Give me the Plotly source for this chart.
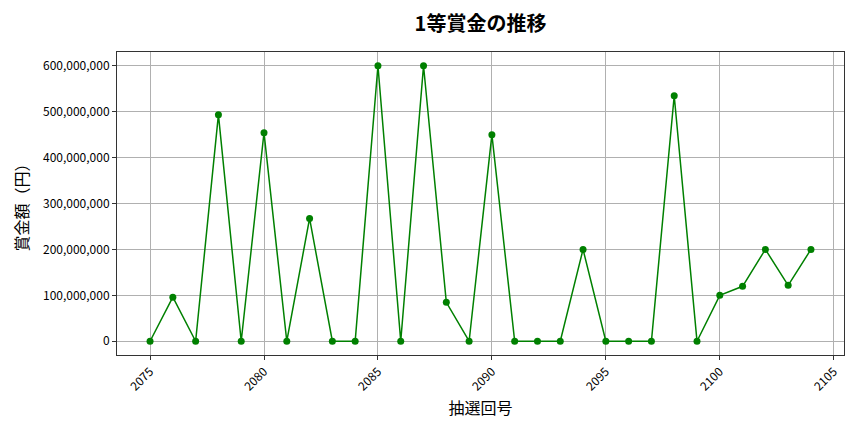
import plotly.graph_objects as go

draws = list(range(2075, 2105))
prizes = [0, 96000000, 0, 493500000, 0, 454300000, 0, 267400000, 0, 0,
          600000000, 0, 600000000, 84800000, 0, 450000000, 0, 0, 0, 200000000,
          0, 0, 0, 534800000, 0, 100000000, 119600000, 200000000, 121700000, 200000000]

title_text = "1等賞金の推移"
x_title = "抽選回号"
y_title = "賞金額（円）"
font_family = "Noto Sans CJK JP"

fig = go.Figure()
fig.add_trace(go.Scatter(
    x=draws, y=prizes, mode="lines+markers",
    line=dict(color="#008000", width=1.5),
    marker=dict(color="#008000", size=7),
    showlegend=False,
))

axis_common = dict(
    showline=True, linecolor="#333333", linewidth=1, mirror=True,
    ticks="outside", ticklen=4, tickcolor="#333333",
    showgrid=True, gridcolor="#b0b0b0", gridwidth=1,
    zeroline=False, automargin=False,
    tickfont=dict(family=font_family, size=12, color="#000000"),
)

fig.update_layout(
    width=864, height=432,
    paper_bgcolor="white", plot_bgcolor="white",
    margin=dict(l=109, r=28, t=44, b=85),
    font=dict(family=font_family, color="#000000"),
    title=dict(text=title_text, xref="paper", x=0.5, xanchor="center",
               yref="container", y=0.963, yanchor="middle",
               font=dict(family=font_family, size=20, color="#000000", weight="bold")),
    xaxis=dict(axis_common, range=[2073.55, 2105.45], tickmode="linear", tick0=2075, dtick=5,
               tickangle=-45,
               title=dict(text=x_title, font=dict(family=font_family, size=16), standoff=10)),
    yaxis=dict(axis_common, range=[-30000000, 630000000], tickmode="linear", tick0=0, dtick=100000000,
               tickformat=",d",
               title=dict(text=y_title, font=dict(family=font_family, size=16), standoff=10)),
)

fig.write_html("out.html")
